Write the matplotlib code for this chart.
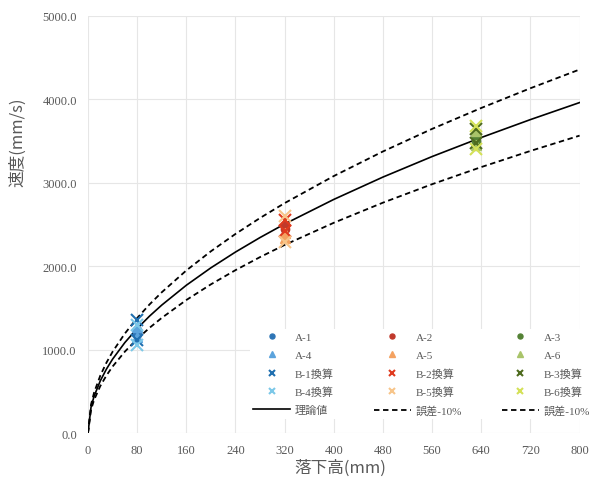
import matplotlib
matplotlib.use("Agg")
import matplotlib.pyplot as plt
import numpy as np
from matplotlib.ticker import FormatStrFormatter

#-------------------Daten---------------------------------------
# Theoretischer Wert (mm / mm/s)
theory_h = [0, 5, 10, 20, 30, 40, 60, 80, 100, 120, 160, 200, 240, 280,
            320, 400, 480, 560, 640, 720, 800]
theory_v = [0, 313, 443, 626, 767, 886, 1085, 1253, 1401, 1534, 1772, 1981,
            2170, 2344, 2506, 2801, 3069, 3315, 3543, 3758, 3962]

# Messpunkte je Serie: (Fallhoehe, Geschwindigkeit)
a1_h = [80, 80];   a1_v = [1190, 1240]
a4_h = [80, 80];   a4_v = [1150, 1270]
b1_h = [80, 80];   b1_v = [1350, 1110]
b4_h = [80, 80];   b4_v = [1290, 1060]
a2_h = [320, 320]; a2_v = [2450, 2500]
a5_h = [320, 320]; a5_v = [2400, 2340]
b2_h = [320, 320]; b2_v = [2560, 2420]
b5_h = [320, 320]; b5_v = [2290, 2600]
a3_h = [632, 632]; a3_v = [3500, 3560]
a6_h = [632, 632]; a6_v = [3450, 3620]
b3_h = [632, 632]; b3_v = [3640, 3480]
b6_h = [632, 632]; b6_v = [3400, 3680]

x_ticks = [0, 80, 160, 240, 320, 400, 480, 560, 640, 720, 800]
y_ticks = [0, 1000, 2000, 3000, 4000, 5000]

txt_col = '#595959'
jp_font = ['Liberation Serif', 'Noto Sans CJK JP', 'DejaVu Sans']
plt.rcParams['font.family'] = jp_font

#-------------------Figur---------------------------------------
fig = plt.figure(figsize=(6.01, 4.85), dpi=100)
ax = fig.add_axes([0.1464, 0.105, 0.818, 0.860])

ax.plot(theory_h, theory_v, color='black', lw=1.2, label='理論値', zorder=3)
tv = np.array(theory_v)
ax.plot(theory_h, tv * 1.1, color='black', lw=1.3, ls=(0, (3, 2)), label='誤差-10%', zorder=3)
ax.plot(theory_h, tv * 0.9, color='black', lw=1.3, ls=(0, (3, 2)), label='誤差-10%', zorder=3)

ms = 8
mk = dict(ls='none', zorder=4)
h_a1, = ax.plot(a1_h, a1_v, marker='o', ms=6, color='#2E75B6', label='A-1', **mk)
h_a4, = ax.plot(a4_h, a4_v, marker='^', ms=7, color='#5BA3DC', label='A-4', **mk)
h_b1, = ax.plot(b1_h, b1_v, marker='x', ms=ms, mew=1.5, color='#1F6FB0', label='B-1換算', **mk)
h_b4, = ax.plot(b4_h, b4_v, marker='x', ms=ms, mew=1.5, color='#7CC8E8', label='B-4換算', **mk)
h_a2, = ax.plot(a2_h, a2_v, marker='o', ms=6, color='#C0392B', label='A-2', **mk)
h_a5, = ax.plot(a5_h, a5_v, marker='^', ms=7, color='#F4A261', label='A-5', **mk)
h_b2, = ax.plot(b2_h, b2_v, marker='x', ms=ms, mew=1.5, color='#E03A1E', label='B-2換算', **mk)
h_b5, = ax.plot(b5_h, b5_v, marker='x', ms=ms, mew=1.5, color='#F7C58A', label='B-5換算', **mk)
h_a3, = ax.plot(a3_h, a3_v, marker='o', ms=6, color='#548235', label='A-3', **mk)
h_a6, = ax.plot(a6_h, a6_v, marker='^', ms=7, color='#A9C46A', label='A-6', **mk)
h_b3, = ax.plot(b3_h, b3_v, marker='x', ms=ms, mew=1.5, color='#4E6B1E', label='B-3換算', **mk)
h_b6, = ax.plot(b6_h, b6_v, marker='x', ms=ms, mew=1.5, color='#D4E157', label='B-6換算', **mk)

lines = ax.get_lines()
h_th, h_up, h_lo = lines[0], lines[1], lines[2]

ax.set_xlim(0, 800)
ax.set_ylim(0, 5000)
ax.set_xticks(x_ticks)
ax.set_yticks(y_ticks)
ax.yaxis.set_major_formatter(FormatStrFormatter('%.1f'))
ax.grid(True, color='#E6E6E6', lw=0.8, zorder=0)
ax.set_axisbelow(True)
for s in ax.spines.values():
    s.set_visible(False)
ax.tick_params(length=0, labelsize=9, colors=txt_col, pad=8)

# Legende: 3 Spalten, zeilenweise
handles = [h_a1, h_a2, h_a3, h_a4, h_a5, h_a6, h_b1, h_b2, h_b3,
           h_b4, h_b5, h_b6, h_th, h_up, h_lo]
# matplotlib fuellt spaltenweise -> umsortieren
order = []
for c in range(3):
    for r in range(5):
        order.append(handles[r * 3 + c])
leg = ax.legend(order, [h.get_label() for h in order], ncol=3,
                loc='lower left', bbox_to_anchor=(0.318, 0.02),
                fontsize=8, frameon=True, framealpha=1, edgecolor='none',
                facecolor='white', handlelength=3.3, handletextpad=0.45,
                columnspacing=3.6, labelspacing=0.72, borderpad=0.3,
                markerscale=0.6)
for t in leg.get_texts():
    t.set_color(txt_col)

fig.text(18 / 601, 1 - 142 / 485, '速度(mm/s)', rotation=90, ha='center', va='center',
         fontsize=12, color=txt_col, family=['Noto Sans CJK JP', 'DejaVu Sans'])
fig.text(340 / 601, 1 - 468 / 485, '落下高(mm)', ha='center', va='center',
         fontsize=12, color=txt_col, family=['Noto Sans CJK JP', 'DejaVu Sans'])

fig.savefig('out.png', dpi=100, facecolor='white')
